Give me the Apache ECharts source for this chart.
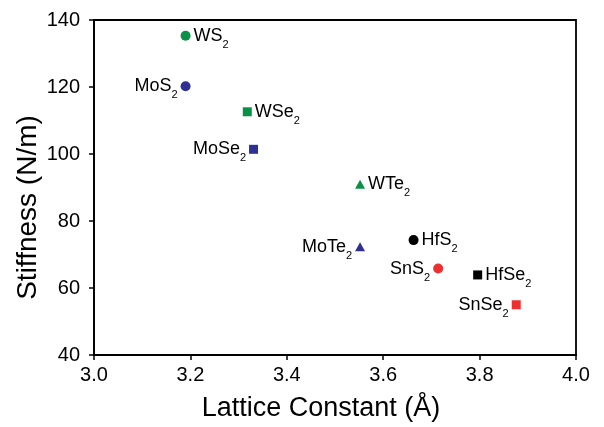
<!DOCTYPE html>
<html>
<head>
<meta charset="utf-8">
<script src="https://cdn.jsdelivr.net/npm/echarts@6/dist/echarts.min.js"></script>
<style>
    html, body { margin: 0; padding: 0; background: #fff; }
    #main { width: 604px; height: 427px; }
</style>
</head>
<body>
<div id="main"></div>
<script>
// material names (the trailing "2" is drawn as a subscript)
var materials = ['WS', 'MoS', 'WSe', 'MoSe', 'WTe', 'MoTe', 'HfS', 'SnS', 'HfSe', 'SnSe'];
var lattice = [3.190, 3.190, 3.318, 3.331, 3.552, 3.552, 3.663, 3.714, 3.796, 3.876];
var stiffness = [135.3, 120.2, 112.6, 101.4, 91.0, 72.3, 74.3, 65.8, 63.9, 55.0];
var symbols = ['circle', 'circle', 'rect', 'rect', 'triangle', 'triangle', 'circle', 'circle', 'rect', 'rect'];
var colors = ['#0a9148', '#2e3192', '#0a9148', '#2e3192', '#0a9148', '#2e3192', '#000000', '#ee2f2f', '#000000', '#ee2f2f'];
var labelSide = ['right', 'left', 'right', 'left', 'right', 'left', 'right', 'left', 'right', 'left'];

var FONT = 'Liberation Sans, Arial, sans-serif';

var points = [];
for (var i = 0; i < materials.length; i++) {
    points.push({
        name: materials[i],
        value: [lattice[i], stiffness[i]],
        symbol: symbols[i],
        symbolSize: symbols[i] === 'circle' ? 10 : (symbols[i] === 'rect' ? 9 : [10, 9]),
        itemStyle: { color: colors[i], opacity: 1 },
        label: {
            show: true,
            position: labelSide[i],
            distance: 3,
            color: '#000',
            formatter: '{a|' + materials[i] + '}{s|2}',
            rich: {
                a: { fontSize: 18, fontFamily: FONT, color: '#000', lineHeight: 20, verticalAlign: 'middle' },
                s: { fontSize: 11, fontFamily: FONT, color: '#000', lineHeight: 12, padding: [18, 0, 0, 0], verticalAlign: 'middle' }
            }
        }
    });
}

var myChart = echarts.init(document.getElementById('main'));
myChart.setOption({
    animation: false,
    backgroundColor: '#fff',
    grid: {
        left: 94, right: 28, top: 20, bottom: 70,
        show: true,
        borderColor: '#000',
        borderWidth: 1.8
    },
    xAxis: {
        type: 'value',
        min: 3.0, max: 4.0, interval: 0.2,
        name: 'Lattice Constant (Å)',
        nameLocation: 'middle',
        nameGap: 40,
        nameMoveOverlap: false,
        nameTextStyle: { fontSize: 27, fontFamily: FONT, color: '#000', padding: [0, 28, 0, 0] },
        axisLine: { lineStyle: { color: '#000', width: 1.8 } },
        axisTick: { inside: false, length: 5, lineStyle: { color: '#000', width: 1.5 } },
        axisLabel: {
            fontSize: 20, fontFamily: FONT, color: '#000', margin: 10,
            formatter: function (v) { return v.toFixed(1); }
        },
        splitLine: { show: false }
    },
    yAxis: {
        type: 'value',
        min: 40, max: 140, interval: 20,
        name: 'Stiffness (N/m)',
        nameLocation: 'middle',
        nameGap: 52,
        nameMoveOverlap: false,
        nameTextStyle: { fontSize: 28, fontFamily: FONT, color: '#000', padding: [0, 40, 0, 0] },
        axisLine: { show: true, lineStyle: { color: '#000', width: 1.8 } },
        axisTick: { show: true, inside: false, length: 5, lineStyle: { color: '#000', width: 1.5 } },
        axisLabel: { fontSize: 20, fontFamily: FONT, color: '#000', margin: 14 },
        splitLine: { show: false }
    },
    series: [{
        type: 'scatter',
        itemStyle: { opacity: 1 },
        data: points
    }]
});
</script>
</body>
</html>
